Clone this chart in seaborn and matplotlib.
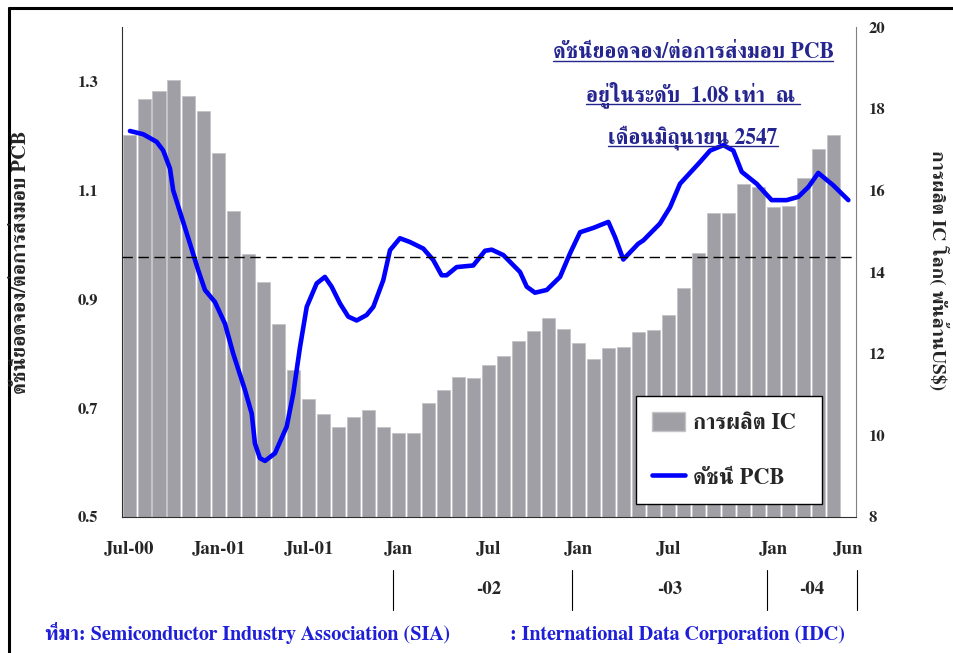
import numpy as np
import pandas as pd
import seaborn as sns
import matplotlib
matplotlib.use("Agg")
import matplotlib.pyplot as plt
from matplotlib import transforms
from matplotlib.lines import Line2D
from matplotlib.patches import Patch

sns.set_style("white")
plt.rcParams["font.family"] = ["FreeSerif", "DejaVu Serif"]
plt.rcParams["font.weight"] = "bold"

# การผลิต IC โลก (พันล้าน US$), ก.ค. 2543 - มิ.ย. 2547 รายเดือน
ic_output = [17.36, 18.23, 18.44, 18.70, 18.32, 17.94, 16.91, 15.50, 14.44, 13.75,
             12.73, 11.60, 10.88, 10.52, 10.21, 10.45, 10.63, 10.21, 10.06, 10.06,
             10.79, 11.11, 11.42, 11.40, 11.72, 11.94, 12.32, 12.55, 12.87, 12.60,
             12.27, 11.88, 12.15, 12.17, 12.52, 12.57, 12.94, 13.61, 14.47, 15.45,
             15.45, 16.15, 16.09, 15.58, 15.62, 16.31, 17.01, 17.36]

# ดัชนี PCB (book-to-bill) อ่านจากเส้นกราฟ, เดือนนับจาก ก.ค. 2543
pcb_month = [0.00, 0.87, 1.75, 2.18, 2.62, 2.83, 3.38, 3.93, 4.47, 4.91, 5.56, 6.22,
             6.76, 7.53, 7.97, 8.18, 8.51, 8.84, 9.49, 10.26, 10.69, 11.13, 11.57,
             12.22, 12.76, 13.20, 13.75, 14.29, 14.84, 15.49, 15.93, 16.58, 17.02,
             17.67, 18.33, 19.20, 19.85, 20.40, 20.73, 21.38, 22.47, 23.24, 23.68,
             24.44, 25.53, 25.97, 26.51, 27.28, 28.15, 28.80, 29.46, 30.33, 31.31,
             31.75, 32.29, 33.27, 33.60, 34.69, 35.35, 36.00, 37.31, 37.97, 38.84,
             39.49, 40.04, 41.02, 42.00, 42.98, 43.74, 44.40, 45.05, 46.04, 47.02]
pcb_index = [1.209, 1.203, 1.189, 1.173, 1.140, 1.100, 1.051, 1.002, 0.953, 0.917,
             0.895, 0.855, 0.800, 0.733, 0.690, 0.635, 0.608, 0.603, 0.617, 0.666,
             0.727, 0.812, 0.886, 0.929, 0.941, 0.923, 0.892, 0.868, 0.861, 0.871,
             0.886, 0.935, 0.990, 1.012, 1.005, 0.993, 0.972, 0.944, 0.944, 0.959,
             0.962, 0.989, 0.991, 0.981, 0.950, 0.923, 0.912, 0.917, 0.941, 0.984,
             1.023, 1.031, 1.042, 1.014, 0.973, 1.002, 1.008, 1.039, 1.069, 1.112,
             1.152, 1.173, 1.183, 1.173, 1.134, 1.112, 1.082, 1.082, 1.088, 1.106,
             1.132, 1.109, 1.082]
ref_level = 0.977

month_tick_pos = [0, 6, 12, 18, 24, 30, 36, 43, 48]
month_tick_labels = ["Jul-00", "Jan-01", "Jul-01", "Jan", "Jul", "Jan", "Jul", "Jan", "Jun"]
year_labels = ["-02", "-03", "-04"]
year_label_pos = [24.0, 36.1, 45.6]
year_sep_pos = [17.6, 29.6, 42.6, 48.6]

title_lines = ["ดัชนียอดจอง/ต่อการส่งมอบ PCB", "อยู่ในระดับ  1.08 เท่า  ณ ", "เดือนมิถุนายน 2547"]

W, H = 954, 653
fig = plt.figure(figsize=(W / 100, H / 100), dpi=100)
pos = [122 / W, 1 - 517 / H, (856 - 122) / W, (517 - 27) / H]
ax_bar = fig.add_axes(pos)
ax_line = fig.add_axes(pos, frameon=False)
ax_line.patch.set_alpha(0)

# bars: IC production (right axis)
bar_df = pd.DataFrame({"m": np.arange(len(ic_output)), "ic": ic_output})
sns.barplot(data=bar_df, x="m", y="ic", ax=ax_bar, color="#a09fa5", width=0.87,
            saturation=1, edgecolor="#c4c4c8", linewidth=0.6)
ax_bar.set_xlim(-0.47, 48.53)
ax_bar.set_ylim(8, 20)
ax_bar.set_yticks(np.arange(8, 21, 2))
ax_bar.yaxis.tick_right()
ax_bar.set_xlabel("")
ax_bar.set_ylabel("")
ax_bar.set_xticks(month_tick_pos, month_tick_labels)
ax_bar.tick_params(axis="x", length=0, pad=17, labelsize=13.5)
ax_bar.tick_params(axis="y", length=0, pad=9, labelsize=12)
ax_bar.spines["top"].set_visible(False)
for s in ["left", "bottom"]:
    ax_bar.spines[s].set_color("#303030")
ax_bar.spines["right"].set_color("#808080")

# line: PCB index (left axis)
line_df = pd.DataFrame({"m": pcb_month, "pcb": pcb_index})
sns.lineplot(data=line_df, x="m", y="pcb", ax=ax_line, color="#0000ff", lw=3.3,
             sort=False, estimator=None)
ax_line.axhline(ref_level, color="black", lw=1, dashes=(7.5, 4))
ax_line.set_xlim(-0.52, 47.52)
ax_line.set_ylim(0.5, 1.4)
ax_line.set_yticks([0.5, 0.7, 0.9, 1.1, 1.3])
ax_line.set_xticks([])
ax_line.set_xlabel("")
ax_line.set_ylabel("")
ax_line.tick_params(axis="y", length=0, pad=17, labelsize=12)

# year separators below the axis
trans = transforms.blended_transform_factory(ax_bar.transData, fig.transFigure)
for xs in year_sep_pos:
    ax_bar.add_line(Line2D([xs, xs], [1 - 570 / H, 1 - 610 / H], transform=trans,
                           color="black", lw=0.8, clip_on=False))
for xl, lab in zip(year_label_pos, year_labels):
    ax_bar.text(xl, 1 - 590 / H, lab, transform=trans, ha="center", va="center",
                fontsize=13.5, fontweight="bold")

# legend
handles = [Patch(facecolor="#a09fa5", edgecolor="#c4c4c8"),
           Line2D([], [], color="#0000ff", lw=3.3)]
leg = ax_line.legend(handles, ["การผลิต IC", "ดัชนี PCB"], loc="upper left",
                     bbox_to_anchor=(636 / W, 1 - 502 / H, 186 / W, 106 / H),
                     bbox_transform=fig.transFigure, mode="expand", borderaxespad=0,
                     prop={"size": 16, "weight": "bold"}, frameon=True, fancybox=False,
                     edgecolor="black", framealpha=1, borderpad=0.7, labelspacing=1.45,
                     handlelength=1.5, handleheight=1.0, handletextpad=0.35)
leg.get_frame().set_linewidth(1.0)

# axis titles
fig.text(21 / W, 1 - 262 / H, "ดัชนียอดจอง/ต่อการส่งมอบ PCB", rotation=90,
         ha="center", va="center", fontsize=14.5, fontweight="bold")
fig.text(938 / W, 1 - 270 / H, "การผลิต IC โลก( พันล้านUS$)", rotation=270,
         ha="center", va="center", fontsize=14, fontweight="bold")

# annotation with underlines
title_color = "#25258f"
title_texts = []
for line, yb in zip(title_lines, [58, 101, 143]):
    t = fig.text(693 / W, 1 - yb / H, line, ha="center", va="baseline",
                 fontsize=15.5, fontweight="bold", color=title_color)
    title_texts.append((t, yb))

# source
src_color = "#1f1fd8"
fig.text(45 / W, 1 - 640 / H, "ที่มา: Semiconductor Industry Association (SIA)",
         ha="left", va="baseline", fontsize=14.5, fontweight="bold", color=src_color)
fig.text(510 / W, 1 - 640 / H, ": International Data Corporation (IDC)",
         ha="left", va="baseline", fontsize=14.5, fontweight="bold", color=src_color)

# outer frame
fig.add_artist(Line2D([9 / W, 1.0], [1 - 8 / H, 1 - 8 / H], transform=fig.transFigure,
                      color="black", lw=2.2))
fig.add_artist(Line2D([9 / W, 9 / W], [1 - 8 / H, 0.0], transform=fig.transFigure,
                      color="black", lw=2.2))

fig.canvas.draw()
renderer = fig.canvas.get_renderer()
for t, yb in title_texts:
    bb = t.get_window_extent(renderer)
    fig.add_artist(Line2D([bb.x0 / W, bb.x1 / W], [1 - (yb + 3) / H, 1 - (yb + 3) / H],
                          transform=fig.transFigure, color=title_color, lw=1.0))

fig.savefig("out.png", dpi=100)
